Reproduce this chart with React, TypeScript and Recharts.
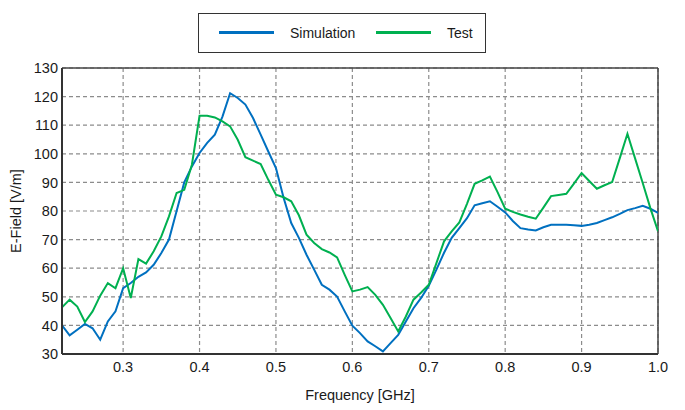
import { CartesianGrid, Label, Line, LineChart, ReferenceLine, XAxis, YAxis } from 'recharts'

const frequency = [
  0.22, 0.23, 0.24, 0.25, 0.26, 0.27, 0.28, 0.29, 0.3, 0.31, 0.32, 0.33, 0.34, 0.35, 0.36, 0.37,
  0.38, 0.39, 0.4, 0.41, 0.42, 0.43, 0.44, 0.45, 0.46, 0.47, 0.48, 0.49, 0.5, 0.51, 0.52, 0.53,
  0.54, 0.55, 0.56, 0.57, 0.58, 0.59, 0.6, 0.61, 0.62, 0.63, 0.64, 0.65, 0.66, 0.67, 0.68, 0.69,
  0.7, 0.71, 0.72, 0.73, 0.74, 0.75, 0.76, 0.77, 0.78, 0.79, 0.8, 0.81, 0.82, 0.83, 0.84, 0.85,
  0.86, 0.87, 0.88, 0.89, 0.9, 0.91, 0.92, 0.93, 0.94, 0.95, 0.96, 0.97, 0.98, 0.99, 1.0,
]

const simulation = [
  40, 36.5, 38.5, 40.5, 39, 35, 41.4, 44.9, 53, 54.8, 57, 58.5, 61.2, 65.3, 70, 80,
  90, 95.6, 100.3, 103.8, 106.7, 113, 121.2, 119.5, 117.2, 112.5, 106.7, 100.8, 95, 84.6, 75.8, 70.6,
  64.7, 59.5, 54.2, 52.5, 50.1, 44.9, 39.9, 37.3, 34.4, 32.7, 30.9, 33.8, 36.7, 41.4, 46, 49.6,
  53.9, 59.5, 65.4, 70.6, 74, 77.5, 82, 82.7, 83.4, 81.5, 79.5, 76.5, 74, 73.5, 73.2, 74.3,
  75.2, 75.2, 75.2, 75, 74.8, 75.2, 75.8, 76.8, 77.8, 79, 80.3, 81, 81.8, 80.8, 79.3,
]

const test = [
  46.3, 49, 46.6, 41.2, 44.9, 50.4, 54.8, 53, 60, 49.6, 63.2, 61.6, 65.9, 71.1, 78.1, 86.3,
  87.4, 96.2, 113.3, 113.3, 112.7, 111.3, 109.6, 104.9, 98.8, 97.6, 96.4, 90.9, 85.7, 84.8, 83.4, 78.5,
  71.7, 68.8, 66.7, 65.5, 63.8, 57.7, 51.9, 52.5, 53.4, 50.7, 47.2, 42.6, 37.9, 43.1, 49, 51.5,
  54.2, 61.8, 69.4, 72.9, 76, 82.5, 89.5, 90.7, 92, 86.6, 80.8, 79.7, 78.8, 78, 77.3, 81.2,
  85.2, 85.6, 86, 89.6, 93.3, 90.5, 87.8, 89, 90.1, 98.5, 107, 98.4, 89.8, 81, 72.9,
]

const xTicks = [0.3, 0.4, 0.5, 0.6, 0.7, 0.8, 0.9, 1.0]
const yTicks = [30, 40, 50, 60, 70, 80, 90, 100, 110, 120, 130]

const series = [
  { key: 'simulation', name: 'Simulation', color: '#0070c0' },
  { key: 'test', name: 'Test', color: '#00b050' },
]

const data = frequency.map((f, i) => ({ f, simulation: simulation[i], test: test[i] }))

const font = '"Liberation Sans", Arial, sans-serif'
const textColor = '#1a1a1a'

const YLabel = (props: any) => {
  const { x, y, height } = props.viewBox
  const cx = x - 2
  const cy = y + height / 2
  return (
    <text
      x={cx}
      y={cy}
      transform={`rotate(-90 ${cx} ${cy})`}
      textAnchor="middle"
      dominantBaseline="central"
      fontSize={14.5}
      fill={textColor}
      fontFamily={font}
    >
      E-Field [V/m]
    </text>
  )
}

export default function App() {
  return (
    <div style={{ position: 'absolute', left: 0, top: 0, width: 685, height: 410, background: '#fff', fontFamily: font }}>
      <div
        style={{
          position: 'absolute',
          left: 198,
          top: 13,
          width: 288,
          height: 40,
          boxSizing: 'border-box',
          border: '1.5px solid #333',
          background: '#fff',
        }}
      >
        {series.map((s, i) => (
          <div key={s.key} style={{ position: 'absolute', left: 20 + i * 157, top: 0, height: 37, display: 'flex', alignItems: 'center' }}>
            <div style={{ width: 55, height: 3, background: s.color }} />
            <span style={{ marginLeft: 16, fontSize: 14, color: textColor }}>{s.name}</span>
          </div>
        ))}
      </div>
      <LineChart width={685} height={410} data={data} margin={{ top: 68, right: 27, bottom: 10, left: 18 }}>
        <CartesianGrid stroke="#8c8c8c" strokeDasharray="4 3" strokeWidth={1.2} />
        <XAxis
          dataKey="f"
          type="number"
          domain={[0.22, 1.0]}
          ticks={xTicks}
          allowDataOverflow
          height={46}
          tickLine={false}
          tickSize={8}
          tickMargin={0}
          tickFormatter={(v: number) => v.toFixed(1)}
          tick={{ fontSize: 14.5, fill: textColor, fontFamily: font }}
          axisLine={{ stroke: '#333', strokeWidth: 2 }}
        >
          <Label value="Frequency [GHz]" position="insideBottom" offset={0} fontSize={14.5} fill={textColor} fontFamily={font} />
        </XAxis>
        <YAxis
          type="number"
          domain={[30, 130]}
          ticks={yTicks}
          width={44}
          tickLine={false}
          tickSize={4}
          tickMargin={0}
          tick={{ fontSize: 14.5, fill: textColor, fontFamily: font }}
          axisLine={{ stroke: '#333', strokeWidth: 2 }}
          label={<YLabel />}
        />
        <ReferenceLine y={130} stroke="#444" strokeWidth={1.5} />
        <ReferenceLine x={1.0} stroke="#444" strokeWidth={1.5} />
        {series.map((s) => (
          <Line
            key={s.key}
            dataKey={s.key}
            name={s.name}
            type="linear"
            stroke={s.color}
            strokeWidth={2}
            dot={false}
            isAnimationActive={false}
          />
        ))}
      </LineChart>
    </div>
  )
}
